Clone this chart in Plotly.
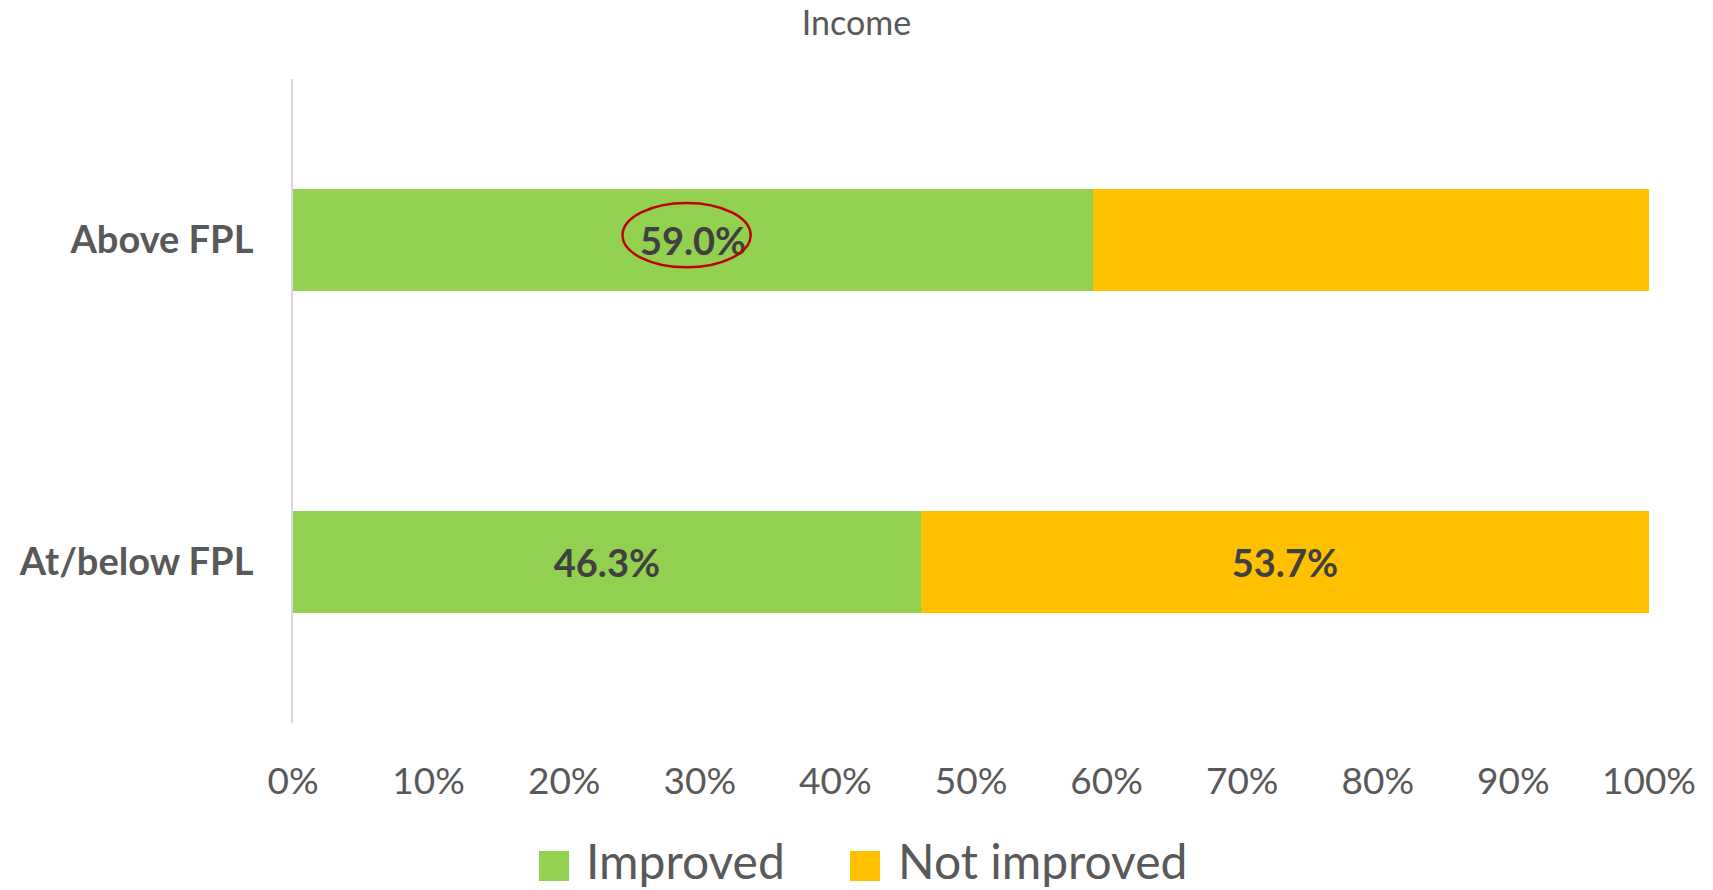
import plotly.graph_objects as go

# Survey shares by income group
categories = ["At/below FPL", "Above FPL"]
improved = [46.3, 59.0]
not_improved = [53.7, 41.0]
improved_labels = ["46.3%", "59.0%"]
not_improved_labels = ["53.7%", ""]
x_ticks = [0, 10, 20, 30, 40, 50, 60, 70, 80, 90, 100]
x_tick_text = [f"{v}%" for v in x_ticks]

GREEN = "#92D050"
YELLOW = "#FFC000"
GREY = "#595959"
LABEL = "#404040"
FONT = "Lato, 'Open Sans', sans-serif"

W, H = 1713, 890
L, R, T, B = 293, 64, 79, 167
PW, PH = W - L - R, H - T - B

fig = go.Figure()
fig.add_trace(go.Bar(
    y=categories, x=improved, orientation="h", name="Improved",
    marker=dict(color=GREEN, line=dict(width=0)), width=0.316,
    text=improved_labels, textposition="inside", insidetextanchor="middle",
    textfont=dict(family=FONT, size=38, color=LABEL, weight="bold"),
    showlegend=False,
))
fig.add_trace(go.Bar(
    y=categories, x=not_improved, orientation="h", name="Not improved",
    marker=dict(color=YELLOW, line=dict(width=0)), width=0.316,
    text=not_improved_labels, textposition="inside", insidetextanchor="middle",
    textfont=dict(family=FONT, size=38, color=LABEL, weight="bold"),
    showlegend=False,
))

# red ring around the 59.0% label
fig.add_shape(type="circle", xref="x", yref="y",
              x0=24.3, x1=33.75, y0=0.915, y1=1.115,
              line=dict(color="#C00000", width=2.5), fillcolor="rgba(0,0,0,0)")


def px_x(p):
    return (p - L) / PW


def px_y(p):
    return (H - B - p) / PH


# legend drawn as swatches plus text
legend_items = [("Improved", GREEN, 539, 584), ("Not improved", YELLOW, 850, 896)]
for name, color, sx, tx in legend_items:
    fig.add_shape(type="rect", xref="paper", yref="paper",
                  x0=px_x(sx), x1=px_x(sx + 30), y0=px_y(881), y1=px_y(851),
                  fillcolor=color, line=dict(width=0))
    fig.add_annotation(xref="paper", yref="paper", x=px_x(tx), y=px_y(860),
                       xanchor="left", yanchor="middle", showarrow=False,
                       text=name, font=dict(family=FONT, size=48, color=GREY))

fig.update_layout(
    width=W, height=H, barmode="stack",
    margin=dict(l=L, r=R, t=T, b=B, autoexpand=False),
    paper_bgcolor="white", plot_bgcolor="white",
    title=dict(text="Income", x=0.5, xref="container", xanchor="center",
               y=1 - 23 / H, yref="container", yanchor="middle",
               font=dict(family=FONT, size=34, color=GREY)),
    xaxis=dict(range=[0, 100], tickvals=x_ticks, ticktext=x_tick_text,
               showgrid=False, zeroline=False, showline=False,
               ticks="", ticklabelstandoff=33,
               tickfont=dict(family=FONT, size=37, color=GREY), fixedrange=True),
    yaxis=dict(range=[-0.5, 1.5], showgrid=False, zeroline=False,
               showline=True, linecolor="#D9D9D9", linewidth=2,
               ticks="", ticklabelstandoff=30,
               tickfont=dict(family=FONT, size=38, color=GREY, weight="bold"),
               fixedrange=True),
    showlegend=False,
)

fig.write_html("out.html")
